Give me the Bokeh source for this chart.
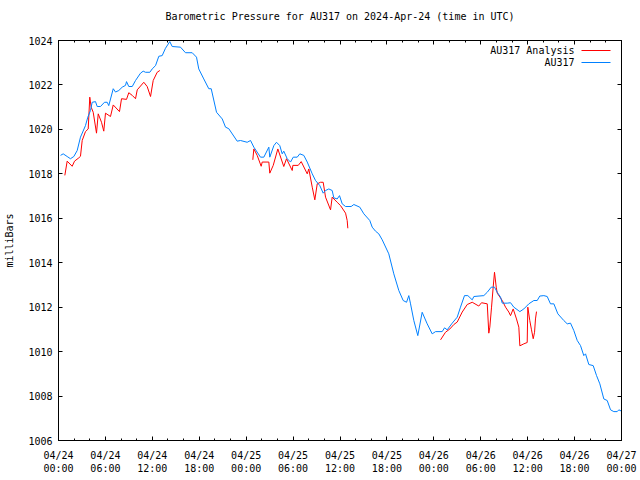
from bokeh.plotting import figure
from bokeh.models import (FixedTicker, LinearAxis, Range1d, CustomLabelingPolicy,
                          Label, BoxAnnotation)
from bokeh.embed import file_html
from bokeh.resources import INLINE

title_text = "Barometric Pressure for AU317 on 2024-Apr-24 (time in UTC)"
y_label = "milliBars"
legend_labels = ["AU317 Analysis", "AU317"]
x_tick_hours = [0, 6, 12, 18, 24, 30, 36, 42, 48, 54, 60, 66, 72]
x_tick_labels = ["04/24\n00:00", "04/24\n06:00", "04/24\n12:00", "04/24\n18:00",
                 "04/25\n00:00", "04/25\n06:00", "04/25\n12:00", "04/25\n18:00",
                 "04/26\n00:00", "04/26\n06:00", "04/26\n12:00", "04/26\n18:00",
                 "04/27\n00:00"]
x_minor_hours = list(range(0, 73, 2))
y_ticks = [1006, 1008, 1010, 1012, 1014, 1016, 1018, 1020, 1022, 1024]

# AU317 observations (hours since 2024-04-24 00:00 UTC, mb)
blue_hours = [0.26, 0.60, 1.11, 1.53, 1.96, 2.39, 2.81, 3.45, 3.75, 4.09, 4.31, 4.73, 4.95,
              5.37, 5.88, 6.23, 6.43, 7.00, 7.29, 7.71, 8.15, 8.57, 8.70, 8.99, 9.43, 9.85,
              10.49, 10.83, 11.13, 11.68, 11.98, 12.41, 12.83, 13.26, 13.68, 14.23, 14.54,
              15.60, 16.24, 17.10, 17.65, 17.94, 18.58, 19.22, 19.53, 20.21, 20.94, 21.36,
              21.78, 22.85, 23.28, 24.13, 24.56, 24.98, 25.83, 26.26, 26.90, 27.02, 27.54,
              27.88, 28.30, 28.61, 28.81, 29.25, 29.67, 30.02, 30.53, 30.86, 31.37, 31.81,
              32.45, 32.87, 33.42, 33.85, 34.15, 34.57, 35.00, 35.21, 35.64, 35.94, 36.28,
              36.71, 37.43, 37.77, 38.53, 39.05, 39.81, 40.12, 40.54, 40.96, 41.40, 42.24,
              42.88, 43.52, 44.08, 44.51, 44.80, 45.02, 45.44, 45.95, 46.51, 47.15, 47.79,
              48.22, 49.07, 49.37, 49.71, 50.35, 50.99, 51.41, 51.92, 52.35, 52.91, 53.12,
              54.39, 54.83, 55.34, 55.76, 56.11, 56.53, 56.75, 57.39, 57.81, 58.23, 59.00,
              59.51, 60.15, 60.79, 61.22, 61.55, 62.07, 62.50, 62.92, 63.35, 63.86, 64.62,
              65.06, 65.48, 65.90, 66.34, 66.76, 67.18, 67.40, 67.82, 68.38, 68.81, 69.23,
              69.74, 70.17, 70.60, 71.02, 71.45, 71.66, 72.00]
blue_pressure = [1018.83, 1018.90, 1018.78, 1018.68, 1018.78, 1019.05, 1019.65, 1020.17,
                 1020.55, 1020.85, 1021.22, 1021.25, 1021.03, 1021.03, 1021.22, 1021.22,
                 1021.07, 1021.83, 1021.68, 1021.75, 1021.90, 1021.98, 1022.15, 1021.93,
                 1021.93, 1022.20, 1022.53, 1022.62, 1022.57, 1022.57, 1022.72, 1022.87,
                 1023.29, 1023.32, 1023.65, 1023.95, 1023.73, 1023.70, 1023.45, 1023.45,
                 1023.25, 1022.72, 1022.27, 1021.83, 1021.83, 1020.77, 1020.47, 1020.10,
                 1020.03, 1019.47, 1019.50, 1019.42, 1019.50, 1019.20, 1018.75, 1018.75,
                 1019.20, 1018.75, 1019.27, 1019.42, 1019.27, 1018.90, 1019.02, 1018.68,
                 1018.53, 1018.75, 1018.75, 1018.90, 1018.83, 1018.53, 1018.00, 1017.70,
                 1017.47, 1017.13, 1017.25, 1017.32, 1017.25, 1016.92, 1016.87, 1017.02,
                 1016.65, 1016.53, 1016.53, 1016.62, 1016.50, 1016.20, 1015.90, 1015.60,
                 1015.42, 1015.30, 1015.03, 1014.40, 1013.50, 1012.75, 1012.30, 1012.22,
                 1012.52, 1012.15, 1011.40, 1010.72, 1011.77, 1011.25, 1010.80, 1010.90,
                 1010.90, 1011.07, 1010.98, 1011.28, 1011.55, 1012.00, 1012.52, 1012.52,
                 1012.33, 1012.48, 1012.52, 1012.67, 1012.90, 1012.90, 1012.67, 1012.45,
                 1012.18, 1012.18, 1012.20, 1012.00, 1011.80, 1011.92, 1012.15, 1012.30,
                 1012.30, 1012.50, 1012.52, 1012.48, 1012.15, 1012.15, 1011.70, 1011.40,
                 1011.25, 1011.28, 1010.95, 1010.50, 1010.27, 1009.82, 1009.90, 1009.42,
                 1009.37, 1008.92, 1008.55, 1007.87, 1007.80, 1007.38, 1007.30, 1007.30,
                 1007.38, 1007.32]

# AU317 Analysis (three separate runs)
red_hours_1 = [0.81, 1.11, 1.75, 2.05, 2.60, 2.81, 3.03, 3.45, 3.80, 4.00, 4.18, 4.44, 4.86,
               5.08, 5.50, 5.79, 6.01, 6.65, 7.00, 7.80, 8.06, 8.70, 8.99, 9.43, 9.85, 10.07,
               10.91, 11.34, 11.77, 12.11, 12.62, 12.96]
red_pressure_1 = [1017.93, 1018.57, 1018.34, 1018.57, 1018.72, 1018.79, 1019.50, 1019.90,
                  1020.02, 1021.45, 1021.00, 1020.77, 1019.83, 1020.70, 1020.32, 1019.92,
                  1020.73, 1020.58, 1021.10, 1020.80, 1021.38, 1021.35, 1021.65, 1021.53,
                  1021.38, 1021.78, 1022.12, 1021.93, 1021.48, 1022.20, 1022.57, 1022.65]
red_hours_2 = [24.85, 24.98, 25.41, 25.92, 26.05, 26.90, 27.02, 27.46, 28.05, 28.81, 29.16,
               29.89, 29.97, 30.66, 31.04, 31.81, 32.01, 32.45, 32.78, 33.09, 33.51, 33.85,
               34.15, 34.79, 35.00, 35.64, 36.07, 36.71, 36.92, 37.00]
red_pressure_2 = [1018.63, 1019.12, 1018.83, 1018.34, 1018.53, 1018.53, 1018.03, 1018.38,
                  1019.12, 1018.33, 1018.68, 1018.15, 1018.38, 1018.38, 1018.55, 1018.00,
                  1018.22, 1017.40, 1016.83, 1017.55, 1017.62, 1017.62, 1016.95, 1016.38,
                  1016.95, 1016.72, 1016.57, 1016.23, 1015.90, 1015.55]
red_hours_3 = [48.86, 49.49, 50.05, 50.56, 50.99, 51.63, 52.27, 52.91, 53.75, 54.10, 54.83,
               55.03, 55.16, 55.38, 55.59, 55.76, 55.98, 56.11, 56.75, 57.17, 57.59, 57.81,
               58.15, 58.57, 58.87, 59.00, 59.51, 59.94, 60.02, 60.27, 60.49, 60.71, 60.88,
               61.00, 61.13]
red_pressure_3 = [1010.53, 1010.87, 1011.02, 1011.22, 1011.33, 1011.78, 1012.12, 1012.22,
                  1012.05, 1012.20, 1012.15, 1010.83, 1011.10, 1012.00, 1012.90, 1013.57,
                  1012.90, 1012.63, 1012.30, 1012.00, 1011.78, 1011.62, 1011.92, 1011.47,
                  1011.10, 1010.26, 1010.35, 1010.41, 1012.00, 1011.40, 1010.98, 1010.58,
                  1010.87, 1011.47, 1011.80]

FONT = "DejaVu Sans Mono"
FS = "10px"
RED = "#ff0000"
BLUE = "#0080ff"

p = figure(width=640, height=480, output_backend="svg", toolbar_location=None,
           x_range=Range1d(0, 72), y_range=Range1d(1006, 1024),
           min_border_left=58, min_border_right=19, min_border_top=40, min_border_bottom=40,
           title=title_text, background_fill_color="white", border_fill_color="white")

p.title.text_font = FONT
p.title.text_font_size = FS
p.title.text_font_style = "normal"
p.title.align = "center"
p.title.text_color = "black"
p.title.standoff = 16

p.xgrid.visible = False
p.ygrid.visible = False
p.outline_line_color = "black"
p.outline_line_width = 1

xt = FixedTicker(ticks=x_tick_hours, minor_ticks=x_minor_hours)
yt = FixedTicker(ticks=y_ticks, minor_ticks=[])

def style_axis(ax, ticker):
    ax.ticker = ticker
    ax.axis_line_color = "black"
    ax.major_tick_line_color = "black"
    ax.minor_tick_line_color = "black"
    ax.major_tick_in = 4
    ax.major_tick_out = 0
    ax.minor_tick_in = 2
    ax.minor_tick_out = 0
    ax.major_label_text_font = FONT
    ax.major_label_text_font_size = FS
    ax.major_label_text_color = "black"
    ax.axis_label_text_font = FONT
    ax.axis_label_text_font_size = FS
    ax.axis_label_text_font_style = "normal"
    ax.axis_label_text_color = "black"

style_axis(p.xaxis[0], xt)
p.xaxis[0].major_label_overrides = dict(zip(x_tick_hours, x_tick_labels))
p.xaxis[0].major_label_standoff = 9
style_axis(p.yaxis[0], yt)
p.yaxis[0].axis_label = y_label
p.yaxis[0].major_label_standoff = 6
p.yaxis[0].axis_label_standoff = 10

# mirrored tick marks on the top and right borders (no labels)
top = LinearAxis()
style_axis(top, xt)
top.major_label_standoff = 0
top.major_label_policy = CustomLabelingPolicy(code="return []")
p.add_layout(top, "above")
right = LinearAxis()
style_axis(right, yt)
right.major_label_standoff = 0
right.major_label_text_font_size = "1px"
right.major_label_policy = CustomLabelingPolicy(code="return []")
p.add_layout(right, "right")

p.multi_line(xs=[red_hours_1, red_hours_2, red_hours_3],
             ys=[red_pressure_1, red_pressure_2, red_pressure_3],
             line_color=RED, line_width=1)
p.line(blue_hours, blue_pressure, line_color=BLUE, line_width=1)

# gnuplot-style key: right-justified text followed by the line sample
for i, (lab, col) in enumerate(zip(legend_labels, [RED, BLUE])):
    ky = 390 - 12 * i
    p.add_layout(Label(x=516, y=ky, x_units="screen", y_units="screen", text=lab,
                       text_align="right", text_baseline="middle", text_font=FONT,
                       text_font_size=FS, text_color="black"))
    p.add_layout(BoxAnnotation(left=523, right=552, bottom=ky - 0.5, top=ky + 0.5,
                               left_units="screen", right_units="screen",
                               top_units="screen", bottom_units="screen",
                               fill_color=col, fill_alpha=1, line_color=None))

open("out.html", "w").write(file_html(p, INLINE))
